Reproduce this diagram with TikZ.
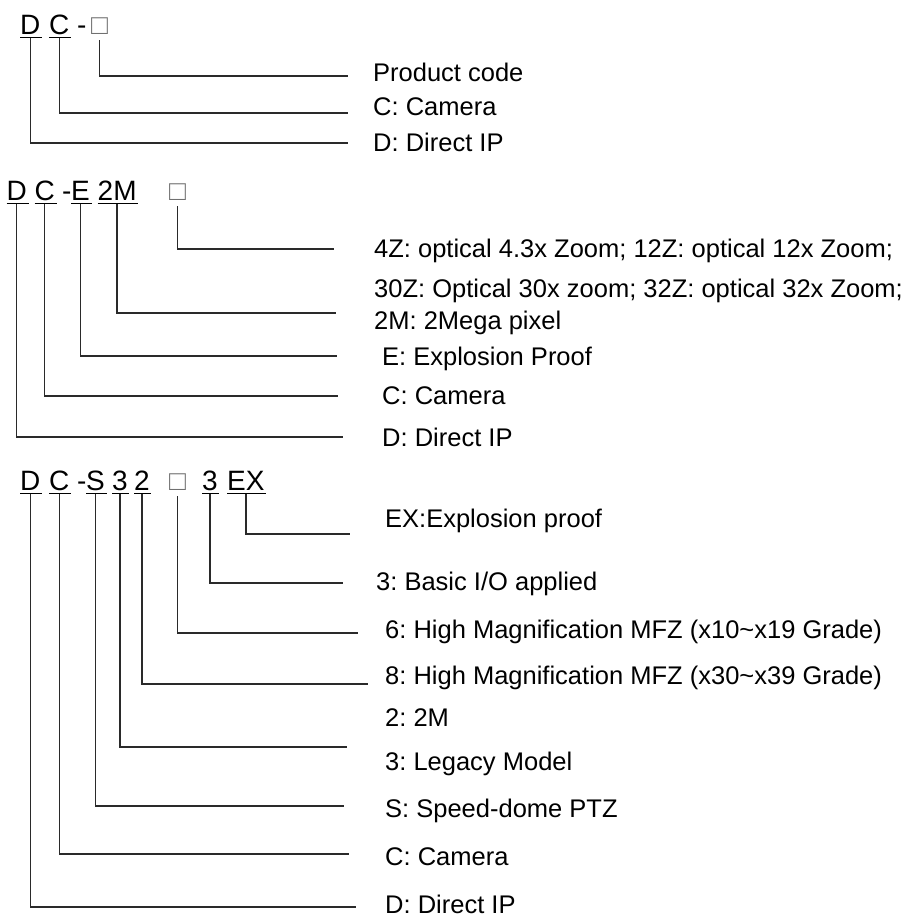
\documentclass[tikz,border=0pt]{standalone}
\usepackage{fontspec}
\setmainfont{Liberation Sans}
\usetikzlibrary{positioning}
\definecolor{ink}{HTML}{2A2A2A}
\definecolor{boxgray}{HTML}{707070}
\frenchspacing

\begin{document}
\begin{tikzpicture}[x=1pt,y=-1pt,font=\fontsize{25.5}{30}\selectfont,
  glyph/.style={anchor=base west,inner sep=0pt,font=\fontsize{28}{33}\selectfont},
  desc/.style={anchor=base west,inner sep=0pt},
  lead/.style={draw=ink,line width=1.3pt},
  uline/.style={line width=1.3pt}]
\useasboundingbox (0,0) rectangle (905,919);

% DC-[]
\node[glyph] (aD) at (20,34) {D};
\node[glyph] (aC) at (49,34) {C};
\node[glyph] (aH) at (77,34) {-};
\node[glyph,text=boxgray] (aB) at (91,34) {□};
\foreach \g in {aD,aC}
  \draw[uline] ([yshift=-3.5pt]\g.base west) -- ([yshift=-3.5pt,xshift=1.5pt]\g.base east);
\coordinate (aBe) at (348,76);
\coordinate (aCe) at (348,113);
\coordinate (aDe) at (348,143);
\draw[lead] ([yshift=-6pt]aB.base) |- (aBe);
\draw[lead] ([yshift=-3.5pt]aC.base) |- (aCe);
\draw[lead] ([yshift=-3.5pt]aD.base) |- (aDe);
\node[desc] (aL1) at (373,81) {Product code};
\node[desc] (aL2) at (373,115) {C: Camera};
\node[desc] (aL3) at (373,151) {D: Direct IP};

% DC-E2M[]
\node[glyph] (bD) at (6.5,200) {D};
\node[glyph] (bC) at (34.5,200) {C};
\node[glyph] (bH) at (62,200) {-};
\node[glyph] (bE) at (71,200) {E};
\node[glyph] (bM) at (97.5,200) {2M};
\node[glyph,text=boxgray] (bB) at (169,200) {□};
\foreach \g in {bD,bC,bE,bM}
  \draw[uline] ([yshift=-3.5pt]\g.base west) -- ([yshift=-3.5pt,xshift=1.5pt]\g.base east);
\coordinate (bBe) at (334,249);
\coordinate (bMe) at (336,313);
\coordinate (bEe) at (337,356);
\coordinate (bCe) at (338,396);
\coordinate (bDe) at (343,437);
\draw[lead] ([yshift=-6pt]bB.base) |- (bBe);
\draw[lead] ([yshift=-3.5pt]bM.base) |- (bMe);
\draw[lead] ([yshift=-3.5pt]bE.base) |- (bEe);
\draw[lead] ([yshift=-3.5pt]bC.base) |- (bCe);
\draw[lead] ([yshift=-3.5pt]bD.base) |- (bDe);
\node[desc] (bL1) at (374,257) {4Z: optical 4.3x Zoom; 12Z: optical 12x Zoom;};
\node[desc] (bL2) at (374,297) {30Z: Optical 30x zoom; 32Z: optical 32x Zoom;};
\node[desc] (bL3) at (374,329) {2M: 2Mega pixel};
\node[desc] (bL4) at (382,365) {E: Explosion Proof};
\node[desc] (bL5) at (382,404) {C: Camera};
\node[desc] (bL6) at (382,446) {D: Direct IP};

% DC-S32[]3EX
\node[glyph] (cD) at (20,490) {D};
\node[glyph] (cC) at (49,490) {C};
\node[glyph] (cH) at (77,490) {-};
\node[glyph] (cS) at (86,490) {S};
\node[glyph] (cT) at (112,490) {3};
\node[glyph] (cW) at (134,490) {2};
\node[glyph,text=boxgray] (cB) at (169,490) {□};
\node[glyph] (cI) at (202,490) {3};
\node[glyph] (cX) at (227,490) {EX};
\foreach \g in {cD,cC,cS,cT,cW,cI,cX}
  \draw[uline] ([yshift=-3.5pt]\g.base west) -- ([yshift=-3.5pt,xshift=1.5pt]\g.base east);
\coordinate (cXe) at (350,534);
\coordinate (cIe) at (343,583);
\coordinate (cBe) at (358,633);
\coordinate (cWe) at (368,684);
\coordinate (cTe) at (347,747);
\coordinate (cSe) at (344,806);
\coordinate (cCe) at (349,854);
\coordinate (cDe) at (356,907);
\draw[lead] ([yshift=-3.5pt]cX.base) |- (cXe);
\draw[lead] ([yshift=-3.5pt]cI.base) |- (cIe);
\draw[lead] ([yshift=-6pt]cB.base) |- (cBe);
\draw[lead] ([yshift=-3.5pt]cW.base) |- (cWe);
\draw[lead] ([yshift=-3.5pt]cT.base) |- (cTe);
\draw[lead] ([yshift=-3.5pt]cS.base) |- (cSe);
\draw[lead] ([yshift=-3.5pt]cC.base) |- (cCe);
\draw[lead] ([yshift=-3.5pt]cD.base) |- (cDe);
\node[desc] (cL1) at (385,527) {EX:Explosion proof};
\node[desc] (cL2) at (376,590) {3: Basic I/O applied};
\node[desc] (cL3) at (385,638) {6: High Magnification MFZ (x10\textasciitilde x19 Grade)};
\node[desc] (cL4) at (385,684) {8: High Magnification MFZ (x30\textasciitilde x39 Grade)};
\node[desc] (cL5) at (385,726) {2: 2M};
\node[desc] (cL6) at (385,770) {3: Legacy Model};
\node[desc] (cL7) at (385,817) {S: Speed-dome PTZ};
\node[desc] (cL8) at (385,865) {C: Camera};
\node[desc] (cL9) at (385,913) {D: Direct IP};
\end{tikzpicture}
\end{document}
